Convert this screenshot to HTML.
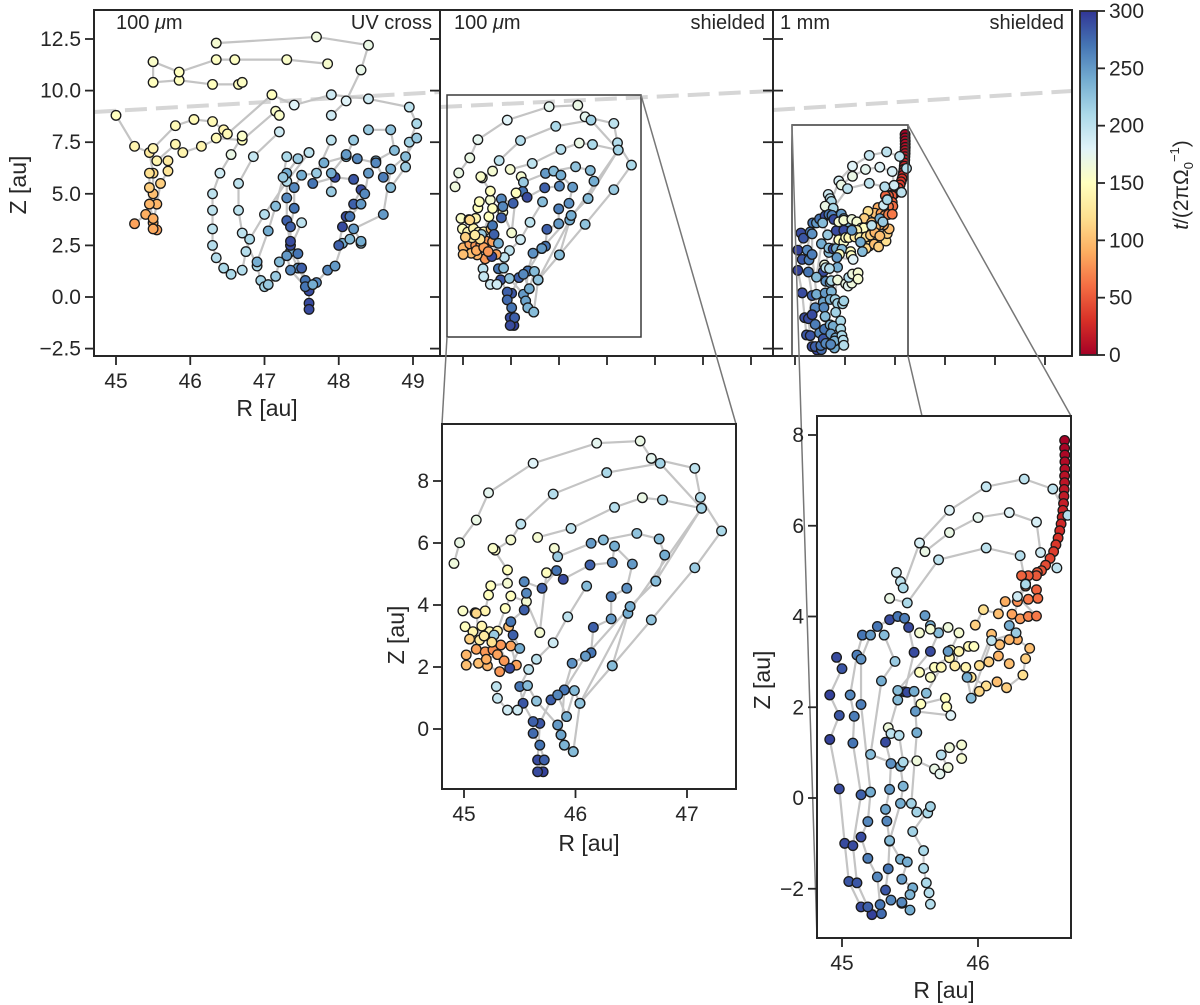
<!DOCTYPE html>
<html><head><meta charset="utf-8"><style>
body{margin:0;background:#fff}
svg{display:block;font-family:"Liberation Sans",sans-serif}
</style></head><body>
<svg id="c" width="1200" height="1005" xmlns="http://www.w3.org/2000/svg"></svg>
<script>
// ---- data: trajectories [R, Z, t] ----
const panel1Tracks = [
 [[45.0,8.8,150],[45.25,7.3,140],[45.45,7.0,130],[45.5,6.0,115],[45.5,5.0,100],[45.4,4.0,90],[45.25,3.55,85]],
 [[45.5,11.4,155],[45.5,10.4,150],[45.85,10.5,150],[46.3,10.3,150],[46.65,10.3,150],[46.7,10.4,152]],
 [[45.5,11.4,155],[45.85,10.9,150],[46.35,11.5,152],[46.6,11.5,152],[47.3,11.5,155],[47.85,11.3,158]],
 [[46.35,12.3,160],[47.7,12.6,165],[48.4,12.2,170],[48.3,11.0,172],[48.1,9.5,180],[47.9,8.8,190]],
 [[45.5,7.2,140],[45.8,8.3,145],[46.05,8.6,145],[46.3,8.5,145],[46.45,8.1,140],[46.35,7.7,145],[46.7,7.6,150],[47.15,9.0,155],[47.2,8.8,155]],
 [[45.55,6.6,140],[45.8,7.4,140],[45.9,7.0,140],[46.15,7.3,140],[46.5,7.9,145],[47.1,9.8,150],[47.4,9.3,180],[47.9,9.8,190],[48.4,9.6,190],[48.95,9.2,200],[49.05,8.4,210],[48.95,7.5,215],[48.9,6.3,220],[48.7,5.3,230]],
 [[45.7,6.6,130],[45.7,6.1,125],[45.6,5.5,110],[45.55,4.5,95],[45.5,3.6,88],[45.55,3.25,85]],
 [[45.45,6.0,120],[45.45,5.3,110],[45.45,4.5,95],[45.5,3.8,90],[45.5,3.3,88]],
 [[46.7,7.8,155],[46.55,6.9,170],[46.4,6.0,190],[46.3,5.0,200],[46.3,4.2,200],[46.3,3.3,200],[46.3,2.5,205],[46.35,1.9,205],[46.45,1.4,210],[46.55,1.1,210],[46.7,1.3,205],[46.75,2.2,205],[46.8,2.8,210],[47.0,4.0,205],[47.3,5.6,205],[47.6,7.0,200]],
 [[47.2,8.0,190],[46.85,6.8,195],[46.65,5.5,200],[46.65,4.2,200],[46.7,3.1,200],[46.9,1.5,210],[46.95,0.8,215],[47.0,0.5,215],[47.05,0.6,220],[47.15,1.0,220],[47.2,1.7,230],[47.35,2.2,240],[47.45,1.4,250],[47.55,0.8,270],[47.6,0.3,280],[47.6,-0.3,290],[47.6,-0.6,290]],
 [[47.6,7.0,200],[47.45,6.7,220],[47.3,6.0,240],[47.3,4.8,260],[47.3,3.7,280],[47.35,2.5,290],[47.5,1.4,280],[47.6,0.3,290],[47.7,0.7,260],[47.85,1.3,260],[47.95,1.5,250],[48.05,2.6,240],[48.15,2.8,230],[48.3,2.6,220]],
 [[47.9,7.6,200],[47.7,6.0,220],[47.5,5.9,240],[47.4,5.3,260],[47.4,4.3,270],[47.35,3.4,280],[47.35,2.7,290],[47.45,2.1,270]],
 [[48.2,7.6,220],[48.1,6.8,230],[47.8,6.5,240],[47.65,5.5,270],[47.95,5.8,290],[48.2,5.7,285],[48.3,5.2,290],[48.2,4.5,280],[48.1,3.9,290],[48.05,3.4,290],[48.0,2.5,280]],
 [[48.4,8.1,220],[48.7,8.1,225],[48.75,7.1,230],[48.5,6.6,240],[48.4,6.0,250],[48.35,5.0,260],[48.3,4.5,250],[48.15,3.9,270]],
 [[49.05,7.7,220],[48.9,6.8,230],[48.7,6.2,240],[48.6,4.0,250],[48.2,3.3,250],[48.3,2.7,240]],
 [[47.3,6.8,210],[47.25,5.8,220],[47.15,4.4,230],[47.05,3.2,240],[46.9,1.7,240]],
 [[47.9,5.1,220],[47.9,6.0,240],[48.1,6.9,250],[48.25,6.7,260],[48.5,6.5,260],[48.6,5.8,265]],
 [[47.5,3.6,200],[47.3,2.0,250],[47.35,1.3,260],[47.55,0.5,270],[47.65,0.6,240]]
];
const insetATracks = [
 [[44.91,5.34,165],[44.96,6.01,170],[45.11,6.74,170],[45.22,7.62,175],[45.62,8.57,180],[46.19,9.22,175],[46.58,9.29,170],[46.68,8.73,175],[47.07,8.41,200],[47.12,7.47,205],[47.31,6.39,210],[47.07,5.2,220],[46.68,3.52,225],[46.33,2.04,230],[46.04,0.83,240],[45.98,-0.73,220]],
 [[45.28,5.77,155],[45.42,6.1,160],[45.51,6.61,200],[45.8,7.58,205],[46.28,8.27,210],[46.76,8.57,215],[47.13,7.12,215],[46.72,4.77,230],[46.49,3.95,235],[46.09,2.35,250],[45.9,1.26,255],[45.87,-0.19,240],[45.9,-0.52,230]],
 [[45.66,6.18,160],[45.96,6.47,200],[46.35,7.15,205],[46.6,7.46,170],[46.78,7.39,210],[47.13,7.12,215],[46.47,3.73,240],[46.04,0.83,240]],
 [[45.81,5.83,160],[45.84,5.56,220],[46.14,5.99,250],[46.25,6.1,230],[46.55,6.31,225],[46.75,6.13,230],[46.8,5.61,240],[46.72,4.77,230],[46.49,3.95,240],[46.33,2.04,230]],
 [[45.54,4.75,260],[45.7,4.54,280],[45.83,5.11,270],[45.89,4.83,290],[46.13,5.29,280],[46.33,5.37,260],[46.35,5.9,240],[46.51,5.32,250],[46.46,4.54,255],[46.32,4.27,265],[46.32,3.55,250],[46.16,3.28,280],[46.14,2.46,270],[46.09,2.35,250],[45.97,2.12,255],[45.9,1.26,270],[45.78,0.94,280],[45.68,0.18,285],[45.66,-1.0,290],[45.71,-1.38,295]],
 [[46.1,4.61,230],[45.93,3.62,200],[45.8,2.78,190],[45.65,2.25,200],[45.58,1.92,200],[45.5,1.37,270],[45.53,0.83,285],[45.62,0.24,280],[45.62,-0.14,275],[45.68,-0.52,270],[45.72,-1.0,280],[45.66,-1.38,290]],
 [[45.29,1.37,200],[45.3,0.99,195],[45.39,0.61,190],[45.48,0.61,190],[45.57,1.4,230],[45.65,0.9,225],[45.84,0.13,250],[45.87,-0.19,245],[45.9,-0.52,235],[45.98,-0.73,230]],
 [[45.84,1.1,260],[45.92,0.4,240],[45.99,1.24,230],[46.04,0.83,225]],
 [[44.99,3.81,155],[45.1,3.75,145],[45.19,3.81,140],[45.22,4.32,150],[45.24,4.62,150],[45.39,4.7,160],[45.39,5.13,150],[45.26,5.83,155]],
 [[45.01,3.3,150],[45.08,3.14,140],[45.16,3.32,140],[45.23,3.14,145],[45.3,3.16,140],[45.37,3.89,150],[45.42,4.29,150],[45.56,4.11,160],[45.68,3.11,160],[45.74,5.04,150]],
 [[45.02,2.39,95],[45.11,2.57,85],[45.19,2.49,80],[45.26,2.55,75],[45.33,2.71,80],[45.42,2.68,85],[45.47,2.06,85],[45.32,1.85,80],[45.21,2.04,95],[45.13,2.12,100],[45.02,2.06,100]],
 [[45.11,3.73,115],[45.14,2.87,130],[45.4,3.3,100],[45.42,3.46,270],[45.44,3.03,280],[45.5,2.6,240],[45.41,1.96,290],[45.27,3.03,220],[45.54,3.84,280],[45.56,4.38,260]],
 [[45.05,2.9,110],[45.2,2.25,90],[45.3,2.4,85],[45.36,2.2,80],[45.25,2.8,120],[45.18,3.0,130]]
];
const insetBTracks = [
 [[46.637,7.88,1],[46.637,7.71,3],[46.639,7.56,5],[46.639,7.41,7],[46.639,7.25,9],[46.637,7.10,11],[46.637,6.95,13],[46.634,6.80,15],[46.632,6.65,17],[46.629,6.49,19],[46.624,6.34,21],[46.619,6.19,23],[46.611,6.04,25],[46.601,5.89,27],[46.589,5.73,30],[46.573,5.58,33],[46.556,5.43,36],[46.53,5.28,40],[46.497,5.13,44],[46.467,5.01,48],[46.436,4.97,50],[46.43,4.9,50],[46.37,4.9,52],[46.32,4.9,55],[46.35,4.67,60],[46.43,4.59,55],[46.44,4.4,60],[46.37,4.38,65],[46.29,4.33,75],[46.2,4.33,90],[46.15,4.06,100],[46.04,4.15,120],[45.98,3.81,110]],
 [[45.40,4.97,190],[45.43,4.77,200],[45.45,4.63,210],[45.57,5.62,185],[45.79,6.34,180],[46.06,6.86,195],[46.34,7.03,200],[46.55,6.81,200],[46.66,6.23,205]],
 [[45.61,5.43,170],[45.79,5.85,170],[46.0,6.18,175],[46.23,6.29,180],[46.43,6.08,185],[46.46,5.41,190],[46.58,5.07,200]],
 [[45.35,4.4,170],[45.48,4.3,210],[45.71,5.25,200],[46.06,5.51,200],[46.31,5.34,205],[46.35,4.72,210]],
 [[44.96,3.1,290],[45.0,2.85,285],[44.91,2.27,295],[44.98,1.82,285],[44.91,1.29,295],[44.98,0.2,290],[45.02,-1.0,290],[45.05,-1.84,285],[45.14,-2.4,290],[45.22,-2.57,295]],
 [[45.15,3.59,270],[45.11,3.15,265],[45.06,2.27,260],[45.09,1.8,265],[45.08,1.21,270],[45.14,0.07,280],[45.08,-1.05,290],[45.11,-1.87,285],[45.19,-2.4,280],[45.29,-2.55,275]],
 [[45.21,3.59,250],[45.14,3.06,255],[45.14,2.06,265],[45.21,0.13,240],[45.19,-0.52,260],[45.14,-0.86,290],[45.19,-1.33,265],[45.26,-1.74,260],[45.28,-2.35,270]],
 [[45.26,3.78,270],[45.35,3.93,290],[45.41,4.0,270],[45.46,3.96,265],[45.49,3.76,290],[45.53,3.21,290],[45.46,2.34,285],[45.41,2.16,230],[45.32,1.23,290],[45.36,0.76,255],[45.35,0.19,250],[45.32,-0.25,245],[45.33,-0.51,260],[45.35,-0.95,280],[45.34,-1.56,270],[45.32,-2.03,285],[45.36,-2.25,260],[45.44,-2.32,250],[45.5,-2.47,240]],
 [[45.31,3.59,230],[45.39,3.01,220],[45.29,2.58,240],[45.21,0.96,230],[45.43,0.7,240],[45.45,0.26,235],[45.43,-0.12,240],[45.35,-0.94,230],[45.43,-1.35,235],[45.48,-1.41,240],[45.44,-1.79,250],[45.52,-1.98,240],[45.5,-2.13,235],[45.44,-2.3,260]],
 [[45.61,4.02,250],[45.65,3.8,240],[45.71,3.64,230],[45.65,3.23,290],[45.41,2.37,230],[45.48,2.33,290],[45.53,2.35,240],[45.55,1.44,240],[45.51,-0.12,215],[45.55,-0.31,215],[45.63,-0.33,210],[45.65,-0.19,215],[45.52,-0.74,215],[45.6,-1.16,210],[45.6,-1.55,210],[45.62,-1.87,210],[45.64,-2.09,205],[45.65,-2.34,205]],
 [[45.34,1.55,165],[45.36,1.42,200],[45.42,1.38,205],[45.45,0.79,210],[45.55,0.82,165],[45.68,0.64,170],[45.72,0.53,175],[45.78,0.67,165],[45.73,0.95,205],[45.79,1.11,165],[45.88,1.17,160],[45.88,0.87,160]],
 [[45.57,3.64,160],[45.65,3.72,160],[45.78,3.76,165],[45.86,3.64,160],[45.8,3.26,150],[45.93,3.34,145],[45.97,3.34,150],[45.79,3.09,140],[45.57,2.77,150],[45.65,2.66,155],[45.68,2.88,150],[45.73,2.88,145],[45.62,2.31,230],[45.58,2.07,150],[45.76,2.2,150],[45.77,2.01,150],[45.8,1.82,180],[45.54,1.91,250]],
 [[45.86,3.23,140],[45.83,2.91,130],[45.91,2.88,140],[45.95,2.66,125],[46.06,2.47,120],[46.01,2.35,115],[46.14,2.56,100],[46.21,2.43,110],[46.33,2.71,120],[46.35,3.07,110],[46.38,3.3,100],[46.29,3.49,90],[46.23,3.49,95],[46.16,3.38,100],[46.1,3.61,100],[46.01,2.92,120],[46.08,3.0,110],[46.15,3.13,95],[46.23,2.96,100]],
 [[46.25,4.05,85],[46.31,3.95,80],[46.37,4.0,70],[46.43,4.01,65],[46.29,4.44,190],[46.35,4.71,210],[46.23,3.8,240],[46.28,3.64,220],[46.1,3.47,200],[45.95,2.2,230],[45.92,2.66,240],[45.78,3.23,250]]
];
const cbTicks = [0,50,100,150,200,250,300];
const p1XTicks = [45,46,47,48,49];
const p1YTicks = [-2.5,0.0,2.5,5.0,7.5,10.0,12.5];
const iAXTicks = [45,46,47];
const iAYTicks = [0,2,4,6,8];
const iBXTicks = [45,46];
const iBYTicks = [-2,0,2,4,6,8];

// ---- helpers ----
const svg = document.getElementById('c');
const NS = 'http://www.w3.org/2000/svg';
function mk(tag, attrs, parent){const e=document.createElementNS(NS,tag);for(const k in attrs)e.setAttribute(k,attrs[k]);(parent||svg).appendChild(e);return e;}
const stops=[[0,[165,0,38]],[0.1,[215,48,39]],[0.2,[244,109,67]],[0.3,[253,174,97]],[0.4,[254,224,144]],[0.5,[255,255,191]],[0.6,[224,243,248]],[0.7,[171,217,233]],[0.8,[116,173,209]],[0.9,[69,117,180]],[1,[49,54,149]]];
function cmap(t){let v=Math.max(0,Math.min(1,t/300));for(let i=0;i<stops.length-1;i++){const a=stops[i],b=stops[i+1];if(v<=b[0]){const f=(v-a[0])/(b[0]-a[0]);return 'rgb('+a[1].map((c,j)=>Math.round(c+(b[1][j]-c)*f)).join(',')+')';}}return 'rgb(49,54,149)';}
function lin(d0,d1,p0,p1){return v=>p0+(v-d0)*(p1-p0)/(d1-d0);}
let clipId=0;
function drawTracks(tracks,sx,sy,box,r,name){
 const id='clip'+(clipId++);
 const cp=mk('clipPath',{id:id});mk('rect',{x:box[0],y:box[1],width:box[2]-box[0],height:box[3]-box[1]},cp);
 const g=mk('g',{'clip-path':'url(#'+id+')'});
 
 
 tracks.forEach(tr=>{
  const pl=mk('polyline',{points:tr.map(p=>sx(p[0])+','+sy(p[1])).join(' '),fill:'none',stroke:'#c4c4c4','stroke-width':2.2},g);
  
  
 });
 tracks.forEach(tr=>tr.forEach(p=>{
  const c=mk('circle',{cx:sx(p[0]),cy:sy(p[1]),r:r,fill:cmap(p[2]),stroke:'#1a1a1a','stroke-width':1.3},g);
  
  
 }));
}
function frame(box,name){const f=mk('rect',{x:box[0],y:box[1],width:box[2]-box[0],height:box[3]-box[1],fill:'none',stroke:'#262626','stroke-width':2});}
function text(x,y,s,attrs,name){const t=mk('text',Object.assign({x:x,y:y,'font-size':21,fill:'#262626'},attrs||{}));t.textContent=s;return t;}
function xticks(ticks,sx,yb,labels){ticks.forEach(v=>{mk('line',{x1:sx(v),x2:sx(v),y1:yb,y2:yb+9,stroke:'#262626','stroke-width':1.8});if(labels)text(sx(v),yb+32,String(v),{'text-anchor':'middle'},'x-tick-label');});}
function yticks(ticks,sy,xl,labels,fmt){ticks.forEach(v=>{mk('line',{x1:xl-9,x2:xl,y1:sy(v),y2:sy(v),stroke:'#262626','stroke-width':1.8});if(labels)text(xl-13,sy(v)+7,fmt?fmt(v):String(v).replace('-','\u2212'),{'text-anchor':'end'},'y-tick-label');});}
function dashed(x0,x1,y0,y1){const l=mk('line',{x1:x0,y1:y0,x2:x1,y2:y1,stroke:'#d6d6d6','stroke-width':4,'stroke-dasharray':'22,9'});}

// ---- top panels ----
const sy1 = lin(0,12.5,297,39);
const fmt1 = v=>v.toFixed(1).replace('-','\u2212');
// panel 1
const b1=[94,10,440,356];
dashed(94,440,112,92);
drawTracks(panel1Tracks,lin(45,49,116,413),sy1,b1,4.8,'panel1');
frame(b1,'panel-uv-cross');
xticks(p1XTicks,lin(45,49,116,413),356,true);
yticks(p1YTicks,sy1,94,true,fmt1);
p1YTicks.forEach(v=>mk('line',{x1:440,x2:430,y1:sy1(v),y2:sy1(v),stroke:'#262626','stroke-width':1.8}));
text(116,29,'',{'font-size':20},'panel1-size-label').innerHTML='100 <tspan font-style="italic">μ</tspan>m';
text(432,29,'UV cross',{'text-anchor':'end','font-size':20},'panel1-title');
text(267,416,'R [au]',{'text-anchor':'middle','font-size':23},'x-axis-title');
text(0,0,'Z [au]',{'text-anchor':'middle','font-size':23,transform:'translate(26,185) rotate(-90)'},'y-axis-title');

// panel 2
const b2=[440,10,773,356];
const sx2=lin(44.8,47.44,447,641);
dashed(440,773,107,91);
drawTracks(insetATracks,sx2,sy1,[447,95,641,337],4.8,'panel2');
frame(b2,'panel-shielded-100um');
xticks([45,45.5,46,46.5,47,47.5,48],lin(45,45.5,463,511),356,false);
p1YTicks.forEach(v=>mk('line',{x1:773,x2:763,y1:sy1(v),y2:sy1(v),stroke:'#262626','stroke-width':1.8}));
const zr1=mk('rect',{x:447,y:95,width:194,height:242,fill:'none',stroke:'#3a3a3a','stroke-width':1.5});
text(454,29,'',{'font-size':20},'panel2-size-label').innerHTML='100 <tspan font-style="italic">μ</tspan>m';
text(765,29,'shielded',{'text-anchor':'end','font-size':20},'panel2-title');

// panel 3
const b3=[773,10,1072,356];
const sx3=lin(44.816,46.684,792,908);
dashed(773,1072,110,91);
drawTracks(insetBTracks,sx3,sy1,b3,4.8,'panel3');
frame(b3,'panel-shielded-1mm');
xticks([45,45.5,46,46.5,47,47.5],lin(45,45.5,795,845),356,false);
p1YTicks.forEach(v=>mk('line',{x1:773,x2:783,y1:sy1(v),y2:sy1(v),stroke:'#262626','stroke-width':1.8}));
const zr2=mk('rect',{x:792,y:125,width:116,height:231,fill:'none',stroke:'#3a3a3a','stroke-width':1.5});
text(780,29,'1 mm',{'font-size':20},'panel3-size-label');
text(1064,29,'shielded',{'text-anchor':'end','font-size':20},'panel3-title');

// connectors
[[447,337,442,424],[641,95,736,424],[792,125,817,938],[908,125,1071,416],[908,356,922,416]].forEach(c=>{const l=mk('line',{x1:c[0],y1:c[1],x2:c[2],y2:c[3],stroke:'#777','stroke-width':1.5});});

// colorbar
const defs=mk('defs',{});
const grad=mk('linearGradient',{id:'cbg',x1:0,y1:1,x2:0,y2:0},defs);
for(let i=0;i<=10;i++)mk('stop',{offset:i/10,'stop-color':cmap(i*30)},grad);
const cb=mk('rect',{x:1080,y:11,width:17,height:344,fill:'url(#cbg)',stroke:'#262626','stroke-width':1.8});
const scb=lin(0,300,355,11);
cbTicks.forEach(v=>{mk('line',{x1:1097,x2:1105,y1:scb(v),y2:scb(v),stroke:'#262626','stroke-width':1.8});text(1109,scb(v)+7,String(v),{},'colorbar-tick-label');});
const cbl=text(0,0,'',{'text-anchor':'middle',transform:'translate(1188,185) rotate(-90)'},'colorbar-title');
cbl.innerHTML='<tspan font-style="italic">t</tspan>/(2πΩ<tspan font-size="13" dy="5">0</tspan><tspan font-size="13" dy="-14">−1</tspan><tspan dy="9">)</tspan>';

// inset A
const bA=[442,424,736,789];
const sxA=lin(45,47,464,687), syA=lin(0,8,729,481);
drawTracks(insetATracks,sxA,syA,bA,4.8,'inset1');
frame(bA,'inset-100um');
xticks(iAXTicks,sxA,789,true);
yticks(iAYTicks,syA,442,true);
text(589,851,'R [au]',{'text-anchor':'middle','font-size':23},'inset1-x-title');
text(0,0,'Z [au]',{'text-anchor':'middle','font-size':23,transform:'translate(404,635) rotate(-90)'},'inset1-y-title');

// inset B
const bB=[817,416,1071,938];
const sxB=lin(45,46,842,978), syB=lin(0,8,798,435);
drawTracks(insetBTracks,sxB,syB,bB,4.8,'inset2');
frame(bB,'inset-1mm');
xticks(iBXTicks,sxB,938,true);
yticks(iBYTicks,syB,817,true);
text(944,998,'R [au]',{'text-anchor':'middle','font-size':23},'inset2-x-title');
text(0,0,'Z [au]',{'text-anchor':'middle','font-size':23,transform:'translate(770,680) rotate(-90)'},'inset2-y-title');
</script>
</body></html>
